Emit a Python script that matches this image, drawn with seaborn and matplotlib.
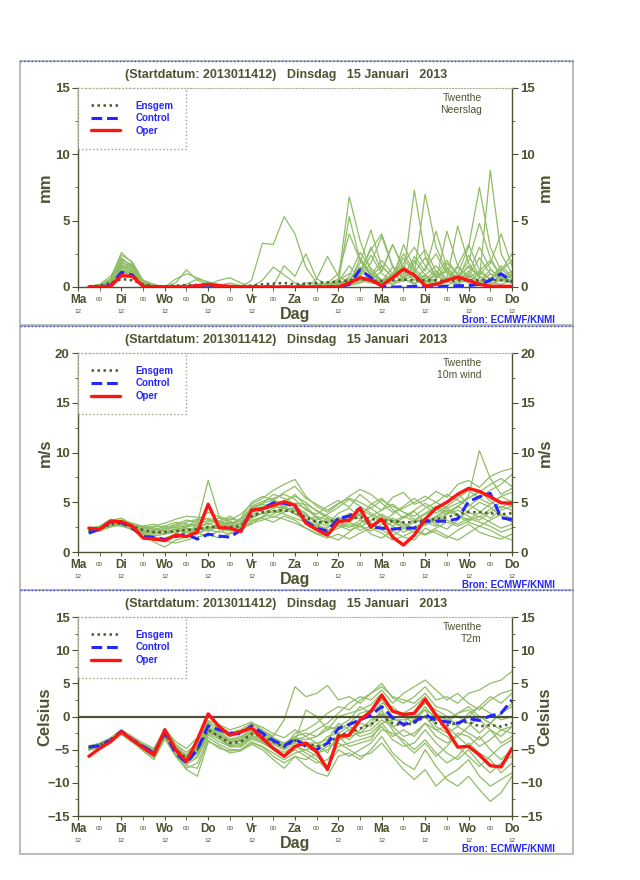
import numpy as np
import pandas as pd
import seaborn as sns
import matplotlib.pyplot as plt
from matplotlib.patches import Rectangle
from matplotlib.lines import Line2D
from matplotlib.ticker import MultipleLocator

# Tijdas: uren na 14 jan 12 UTC, stappen van 6 uur
hours = list(range(6, 241, 6))
day_hours = list(range(0, 241, 24))
mid_hours = list(range(12, 240, 24))
day_names = ['Ma', 'Di', 'Wo', 'Do', 'Vr', 'Za', 'Zo', 'Ma', 'Di', 'Wo', 'Do']
# onder Za staat 'Dag', daar geen 12
uur_labels = ['12', '12', '12', '12', '12', '', '12', '12', '12', '12', '12']

# ---------------- Neerslag (mm) ----------------
neerslag_oper = [0.0, 0.0, 0.05, 0.85, 0.8, 0.05, 0.0, 0.0, 0.0, 0.0,
                 0.1, 0.2, 0.1, 0.05, 0.0, 0.0, 0.0, 0.0, 0.0, 0.0,
                 0.0, 0.0, 0.0, 0.0, 0.3, 0.7, 0.5, 0.1, 0.7, 1.35,
                 0.9, 0.1, 0.2, 0.5, 0.75, 0.5, 0.2, 0.05, 0.05, 0.05]
neerslag_control = [0.0, 0.0, 0.1, 1.1, 0.9, 0.05, 0.0, 0.0, 0.0, 0.0,
                    0.1, 0.15, 0.05, 0.0, 0.0, 0.0, 0.0, 0.0, 0.0, 0.0,
                    0.0, 0.0, 0.0, 0.0, 0.2, 1.3, 0.7, 0.05, 0.0, 0.0,
                    0.05, 0.1, 0.0, 0.05, 0.1, 0.1, 0.2, 0.5, 1.0, 0.4]
neerslag_ensgem = [0.05, 0.1, 0.3, 0.6, 0.5, 0.2, 0.05, 0.05, 0.1, 0.15,
                   0.15, 0.15, 0.1, 0.05, 0.05, 0.1, 0.2, 0.25, 0.3, 0.2,
                   0.25, 0.3, 0.35, 0.4, 0.5, 0.6, 0.5, 0.45, 0.5, 0.55,
                   0.5, 0.5, 0.5, 0.45, 0.5, 0.5, 0.5, 0.55, 0.5, 0.45]
neerslag_leden = [
    [0, 0.1, 0.6, 2.6, 1.8, 0.3, 0, 0, 0, 0, 0, 0, 0, 0, 0, 0, 0, 0, 0, 0,
     0, 0, 0.2, 0.6, 6.8, 3.5, 1.2, 0.4, 1.5, 0.6, 0.2, 0.8, 0.3, 0.1, 0.5, 1.2, 0.4, 0.2, 0.6, 0.3],
    [0, 0.2, 0.8, 2.2, 1.5, 0.4, 0.1, 0, 0, 0, 0, 0, 0, 0, 0, 0, 0, 0, 0, 0,
     0, 0, 0.1, 0.3, 5.3, 2.0, 0.9, 0.5, 0.2, 0.8, 7.3, 2.4, 0.6, 1.8, 0.9, 0.3, 0.1, 0.5, 1.4, 0.6],
    [0, 0, 0.3, 1.6, 1.2, 0.2, 0, 0, 0.6, 1.0, 0.7, 0.3, 0, 0, 0, 0, 0, 0, 0, 0,
     0, 0, 0, 0, 0.4, 1.8, 4.3, 1.5, 0.8, 2.2, 1.0, 7.0, 3.0, 1.2, 0.5, 2.4, 0.8, 0.3, 0.2, 0.5],
    [0, 0.1, 0.4, 1.9, 1.4, 0.3, 0.1, 0, 0, 0, 0, 0, 0, 0, 0, 0.5, 3.3, 3.2, 5.3, 4.0,
     1.5, 0.3, 0, 0, 0.2, 0.5, 0.3, 0.2, 0.4, 0.6, 0.3, 0.5, 0.2, 0.4, 0.2, 0.6, 0.3, 1.0, 0.5, 0.3],
    [0, 0, 0.2, 1.3, 1.0, 0.1, 0, 0, 0, 0.2, 0.6, 0.4, 0.2, 0, 0, 0, 0, 0.1, 1.6, 0.8,
     2.5, 0.6, 0.2, 0.5, 1.0, 0.8, 1.8, 3.8, 1.5, 0.6, 2.3, 1.2, 4.2, 1.5, 0.6, 1.0, 3.0, 1.4, 0.5, 0.8],
    [0, 0.1, 0.5, 1.8, 1.6, 0.5, 0.2, 0, 0, 0, 0, 0, 0, 0, 0, 0, 0, 0, 0, 0,
     0, 0.6, 2.3, 0.8, 0.3, 1.0, 3.0, 1.2, 3.2, 1.4, 0.5, 0.9, 1.6, 0.6, 4.6, 1.8, 0.6, 8.8, 2.5, 1.0],
    [0, 0, 0.3, 1.5, 1.2, 0.2, 0, 0, 0, 0, 0, 0.1, 0.1, 0, 0, 0, 0, 0, 0, 0,
     0, 0, 0, 0.2, 0.5, 1.5, 0.6, 0.3, 1.0, 2.5, 1.2, 0.4, 1.0, 2.0, 1.0, 3.0, 7.5, 3.0, 1.2, 2.5],
    [0, 0.1, 0.5, 2.0, 1.7, 0.4, 0.1, 0, 0, 0, 0, 0, 0, 0, 0, 0, 0, 0, 0, 0,
     0.3, 0.2, 0, 0, 0.8, 2.6, 1.4, 0.5, 0.9, 1.8, 3.0, 1.6, 0.7, 1.2, 0.6, 1.6, 0.9, 1.8, 4.0, 1.6],
    [0, 0, 0.2, 1.2, 0.8, 0.1, 0, 0, 0.3, 1.3, 0.5, 0.2, 0.1, 0.3, 0.1, 0, 0, 0, 0, 0,
     0, 0, 0.1, 0.4, 1.6, 0.6, 0.9, 2.0, 1.0, 0.4, 1.8, 2.8, 1.2, 0.5, 1.5, 0.8, 2.2, 1.0, 0.6, 1.0],
    [0, 0.1, 0.4, 1.7, 1.3, 0.3, 0, 0, 0, 0, 0.1, 0.2, 0.5, 0.7, 0.3, 0, 0, 0, 0, 0,
     0, 0, 0, 0.1, 0.4, 0.8, 0.5, 1.2, 3.2, 1.4, 0.8, 0.3, 0.6, 1.4, 0.7, 0.3, 1.1, 0.6, 1.6, 0.8],
    [0, 0, 0.3, 1.4, 1.1, 0.2, 0, 0, 0, 0, 0, 0, 0, 0, 0, 0, 0.5, 1.5, 0.9, 0.3,
     0, 0, 0, 0, 0.2, 2.2, 1.0, 0.4, 0.6, 1.0, 2.0, 0.9, 0.4, 4.2, 1.6, 0.7, 1.2, 2.0, 0.8, 0.4],
    [0, 0.1, 0.6, 2.4, 1.9, 0.5, 0.1, 0, 0, 0, 0, 0, 0, 0, 0, 0, 0, 0, 0, 0,
     0, 0, 0, 0, 0.1, 0.3, 0.6, 0.4, 0.2, 0.5, 0.9, 0.5, 0.2, 0.6, 0.3, 0.8, 0.4, 0.2, 0.5, 0.9],
    [0, 0, 0.2, 1.0, 0.9, 0.2, 0, 0, 0, 0, 0, 0, 0, 0, 0, 0, 0, 0, 0, 0,
     0, 0, 0.3, 1.0, 4.0, 2.0, 0.8, 1.6, 0.7, 1.2, 0.5, 1.4, 2.5, 1.0, 0.5, 0.9, 0.4, 1.3, 0.7, 0.3],
    [0, 0.1, 0.4, 1.6, 1.5, 0.4, 0.1, 0, 0, 0, 0, 0, 0, 0, 0, 0, 0, 0, 0, 0,
     0, 0, 0, 0, 0.3, 0.9, 2.4, 1.0, 0.5, 3.2, 1.4, 0.6, 1.2, 0.5, 1.6, 3.2, 1.3, 0.6, 1.2, 2.0],
    [0, 0, 0.3, 1.2, 1.0, 0.3, 0, 0, 0, 0, 0, 0, 0, 0, 0, 0, 0, 0, 0, 0,
     0, 0, 0, 0, 0.2, 0.4, 0.9, 0.5, 0.8, 1.6, 0.7, 0.3, 0.9, 0.4, 0.7, 1.5, 0.8, 0.4, 0.7, 0.5],
    [0, 0.1, 0.5, 2.1, 1.6, 0.3, 0, 0, 0, 0, 0, 0, 0, 0, 0, 0, 0, 0, 0, 0,
     0, 0, 0, 0.3, 0.6, 1.2, 2.8, 4.0, 1.6, 0.7, 1.1, 2.2, 0.9, 0.4, 0.8, 1.9, 4.8, 2.2, 0.8, 1.2],
]

# ---------------- 10m wind (m/s) ----------------
wind_oper = [2.4, 2.3, 3.1, 3.05, 2.6, 1.4, 1.3, 1.15, 1.7, 1.55,
             2.0, 4.8, 2.45, 2.4, 2.05, 4.2, 4.35, 4.7, 5.05, 4.7,
             2.9, 2.25, 1.7, 3.05, 3.2, 4.4, 2.5, 3.3, 1.5, 0.7,
             1.7, 3.3, 4.4, 5.0, 5.8, 6.4, 6.1, 5.55, 4.95, 4.9]
wind_control = [1.9, 2.3, 3.05, 2.95, 2.4, 1.55, 1.5, 1.25, 1.55, 1.8,
                1.3, 1.8, 1.6, 1.5, 2.2, 4.2, 4.35, 4.95, 4.9, 4.6,
                3.05, 2.4, 2.1, 3.4, 3.6, 4.4, 2.5, 2.4, 2.3, 2.4,
                2.4, 3.1, 3.1, 3.1, 3.35, 5.05, 5.56, 5.9, 3.45, 3.25]
wind_ensgem = [2.2, 2.3, 2.8, 2.9, 2.6, 2.2, 2.0, 2.0, 2.1, 2.2,
               2.3, 2.5, 2.5, 2.5, 2.6, 3.6, 4.0, 4.1, 4.2, 4.0,
               3.5, 3.0, 3.0, 3.3, 3.3, 3.5, 3.3, 3.2, 3.1, 3.0,
               3.0, 3.2, 3.3, 3.5, 3.8, 4.0, 4.0, 3.9, 3.8, 3.9]
wind_leden = [
    [2.0, 2.2, 2.6, 3.2, 2.9, 2.5, 2.3, 2.1, 2.8, 3.2, 3.0, 3.4, 3.1, 3.6, 3.0, 4.6, 5.1, 5.4, 5.8, 5.3,
     4.2, 3.8, 4.6, 5.2, 4.5, 5.8, 4.9, 4.2, 5.5, 6.0, 4.8, 5.2, 6.1, 5.5, 6.8, 7.2, 6.5, 7.6, 8.1, 8.4],
    [2.3, 2.5, 3.0, 2.7, 2.2, 1.8, 1.4, 1.1, 0.9, 1.2, 1.5, 1.8, 1.4, 1.9, 2.2, 3.1, 3.4, 3.0, 3.6, 3.2,
     2.4, 1.9, 1.6, 1.2, 2.0, 2.8, 1.8, 1.4, 2.1, 1.5, 1.2, 2.4, 1.9, 1.4, 2.2, 2.8, 2.0, 1.6, 1.3, 1.8],
    [2.1, 2.4, 3.2, 3.4, 2.8, 2.4, 2.6, 2.9, 3.3, 3.6, 3.5, 3.3, 2.8, 2.6, 3.4, 5.0, 5.6, 5.2, 4.9, 5.8,
     4.6, 3.5, 2.8, 3.9, 4.4, 3.6, 4.8, 5.4, 4.3, 3.4, 4.1, 3.0, 2.6, 3.8, 4.6, 5.4, 6.2, 5.1, 4.4, 5.2],
    [2.4, 2.1, 2.7, 2.6, 2.3, 2.0, 1.6, 1.8, 2.2, 1.9, 2.4, 2.1, 2.6, 2.9, 2.4, 2.8, 3.6, 4.2, 3.8, 3.4,
     3.0, 2.6, 3.4, 2.8, 2.5, 3.2, 2.6, 3.6, 3.0, 2.4, 2.0, 2.8, 3.6, 4.4, 3.8, 3.2, 4.0, 4.8, 5.6, 5.0],
    [1.9, 2.3, 2.9, 3.0, 2.7, 2.6, 2.8, 2.4, 1.9, 1.6, 2.4, 3.0, 3.4, 3.1, 2.8, 4.0, 4.6, 4.9, 4.6, 4.1,
     3.6, 3.2, 3.8, 4.5, 5.3, 4.6, 3.9, 3.3, 2.6, 3.5, 4.2, 4.9, 4.3, 5.0, 5.9, 4.8, 4.1, 3.4, 4.2, 4.6],
    [2.2, 2.6, 3.3, 3.1, 2.4, 1.6, 1.2, 1.4, 1.8, 2.6, 3.2, 4.0, 3.5, 2.9, 3.1, 3.6, 3.9, 3.5, 4.0, 4.6,
     3.9, 2.8, 2.2, 2.6, 3.0, 3.8, 3.0, 2.2, 1.6, 2.4, 3.0, 3.4, 2.8, 2.3, 3.2, 4.2, 5.0, 4.5, 3.6, 3.0],
    [2.0, 2.2, 2.5, 2.8, 2.5, 2.3, 2.5, 2.6, 2.4, 2.8, 2.6, 2.2, 2.0, 2.4, 2.6, 3.4, 3.9, 4.4, 4.6, 4.9,
     4.8, 4.2, 3.6, 3.1, 2.5, 2.9, 3.6, 4.2, 4.8, 4.0, 3.3, 2.7, 3.2, 3.9, 4.5, 5.6, 10.2, 7.4, 5.8, 6.4],
    [2.3, 2.4, 2.8, 2.9, 2.7, 2.0, 1.5, 1.3, 1.6, 2.0, 1.8, 2.3, 2.7, 2.2, 2.0, 3.2, 3.5, 3.8, 4.4, 3.9,
     3.2, 3.6, 3.2, 2.7, 2.2, 2.6, 2.1, 2.8, 3.4, 2.9, 2.3, 1.8, 2.4, 3.0, 2.6, 3.1, 3.6, 3.0, 2.4, 2.8],
    [2.1, 2.3, 2.9, 3.0, 2.8, 2.6, 2.4, 2.2, 2.5, 2.6, 2.9, 7.2, 3.6, 3.2, 3.8, 4.8, 5.4, 6.2, 6.8, 7.3,
     5.6, 4.6, 4.0, 4.8, 5.6, 6.3, 5.8, 4.9, 4.0, 4.4, 5.0, 5.6, 5.0, 4.4, 4.9, 5.4, 6.0, 6.8, 7.4, 6.6],
    [2.2, 2.1, 2.6, 2.7, 2.4, 2.2, 2.0, 1.8, 2.0, 2.4, 2.2, 2.6, 2.3, 2.5, 2.9, 3.8, 4.2, 4.6, 4.4, 3.8,
     3.2, 2.4, 1.9, 2.4, 2.8, 2.2, 2.6, 3.2, 2.6, 2.0, 2.5, 3.0, 3.6, 3.2, 2.8, 3.4, 3.0, 2.6, 2.0, 2.4],
    [2.4, 2.6, 3.1, 3.2, 2.9, 2.5, 2.1, 2.4, 2.8, 2.3, 1.9, 2.4, 2.9, 3.4, 3.0, 4.4, 4.8, 4.4, 5.2, 5.6,
     5.0, 4.1, 3.4, 2.9, 3.6, 4.3, 3.7, 3.0, 3.8, 4.6, 5.4, 4.6, 3.9, 4.6, 5.4, 6.2, 5.4, 4.8, 5.6, 6.0],
    [2.0, 2.3, 2.7, 3.0, 2.6, 1.9, 1.0, 0.5, 1.2, 1.5, 1.9, 1.6, 2.1, 1.8, 2.4, 2.9, 3.2, 3.6, 3.3, 2.9,
     2.4, 1.8, 1.4, 1.8, 1.3, 1.9, 2.4, 1.9, 1.2, 1.6, 2.1, 1.7, 2.2, 1.6, 1.2, 1.9, 2.6, 2.2, 1.6, 1.2],
    [2.3, 2.5, 2.9, 2.8, 2.6, 2.4, 2.2, 2.6, 3.0, 2.8, 2.5, 2.8, 3.1, 2.7, 2.5, 3.4, 4.4, 4.8, 4.1, 4.4,
     3.8, 3.0, 2.6, 3.2, 3.9, 3.3, 2.8, 2.4, 3.0, 3.6, 3.1, 3.8, 4.4, 3.8, 4.2, 3.6, 3.2, 4.0, 4.6, 4.2],
    [2.1, 2.4, 2.8, 2.9, 2.7, 2.2, 1.9, 2.2, 2.6, 3.0, 3.3, 2.9, 2.4, 2.1, 2.5, 4.2, 4.9, 5.8, 5.4, 4.8,
     4.4, 3.4, 2.9, 3.5, 3.1, 3.9, 4.4, 3.6, 3.0, 2.6, 3.2, 3.9, 4.6, 4.0, 4.6, 4.0, 3.5, 4.3, 5.0, 4.6],
    [2.2, 2.3, 2.7, 2.8, 2.5, 2.1, 1.8, 1.9, 2.3, 2.1, 2.6, 2.3, 2.8, 3.0, 2.7, 3.6, 3.9, 4.0, 4.5, 4.2,
     3.4, 2.6, 2.4, 3.4, 3.0, 2.5, 3.2, 3.8, 3.2, 2.8, 2.4, 2.9, 3.4, 4.2, 3.6, 3.0, 2.6, 3.2, 3.8, 3.4],
    [2.4, 2.5, 3.0, 3.1, 2.8, 2.4, 2.2, 2.0, 2.3, 2.5, 2.8, 3.2, 3.0, 2.8, 3.3, 4.5, 4.9, 5.2, 6.0, 6.6,
     5.4, 4.8, 4.2, 4.9, 5.4, 5.0, 4.4, 5.2, 4.6, 4.0, 3.6, 4.4, 5.0, 5.8, 5.2, 4.6, 5.4, 6.2, 6.8, 7.8],
]

# ---------------- T2m (Celsius) ----------------
temp_oper = [-6.0, -4.8, -3.8, -2.3, -3.5, -4.7, -5.8, -2.0, -5.0, -6.8,
             -3.5, 0.4, -1.5, -2.8, -2.3, -1.7, -3.3, -4.8, -6.0, -4.5,
             -4.0, -5.3, -8.0, -3.0, -2.8, -0.5, 0.8, 3.2, 0.8, 0.3,
             0.5, 2.6, 0.2, -2.0, -4.6, -4.5, -5.8, -7.4, -7.6, -4.8]
temp_control = [-4.6, -4.4, -3.6, -2.2, -3.5, -4.5, -5.5, -2.5, -5.5, -7.0,
                -5.0, -1.4, -2.0, -2.5, -2.6, -1.4, -2.5, -3.6, -4.4, -3.4,
                -4.5, -5.0, -4.0, -1.8, -1.2, -0.5, 0.2, 1.5, -0.2, -1.2,
                -0.8, 0.3, -0.6, -0.8, -1.0, -0.3, -0.6, 0.1, 0.5, 2.5]
temp_ensgem = [-4.7, -4.3, -3.5, -2.3, -3.5, -4.5, -5.5, -2.6, -5.0, -6.3,
               -5.0, -2.0, -3.0, -4.0, -3.8, -2.6, -3.0, -3.8, -4.6, -3.6,
               -4.0, -4.5, -4.3, -2.8, -2.5, -1.8, -1.2, 0.0, -1.0, -1.3,
               -1.0, 0.0, -1.0, -1.3, -1.0, -0.8, -1.5, -1.3, -1.5, -1.0]
temp_leden = [
    [-4.5, -4.0, -3.2, -2.0, -3.0, -4.0, -4.8, -1.8, -3.8, -4.8, -3.2, -0.6, -1.2, -2.0, -1.5, -0.8, -2.0, -3.0, -0.5, 4.5,
     3.0, 3.5, 4.7, 2.5, 3.0, 2.0, 3.5, 5.0, 2.8, 2.0, 3.0, 4.5, 2.5, 3.0, 2.0, 3.5, 4.0, 5.0, 5.5, 6.8],
    [-5.0, -4.6, -3.8, -2.6, -3.8, -5.2, -6.5, -3.4, -6.0, -8.0, -9.0, -3.8, -4.5, -5.5, -5.2, -4.2, -5.0, -6.5, -7.8, -6.0,
     -7.5, -8.5, -9.0, -6.0, -5.5, -6.5, -5.0, -3.0, -5.5, -7.0, -8.0, -5.0, -7.5, -9.5, -10.5, -9.0, -11.0, -12.8, -11.5, -9.0],
    [-4.8, -4.4, -3.6, -2.4, -3.4, -4.4, -5.2, -2.2, -4.6, -6.0, -4.4, -1.2, -2.2, -3.0, -2.6, -1.6, -2.4, -3.2, -4.0, -3.0,
     -2.5, -3.0, -2.0, 0.0, 0.5, 1.0, 1.8, 3.5, 1.0, 0.5, 1.5, 3.0, 0.5, -0.5, 0.5, 1.5, 0.0, -1.0, 0.5, 1.5],
    [-4.6, -4.2, -3.4, -2.2, -3.6, -4.8, -6.0, -3.0, -5.5, -7.2, -6.2, -2.8, -3.8, -4.5, -4.6, -3.4, -4.0, -5.0, -6.0, -5.0,
     -6.0, -7.0, -6.5, -4.5, -4.0, -3.5, -3.0, -1.5, -3.5, -4.5, -4.0, -2.0, -4.0, -5.5, -6.5, -5.0, -7.0, -8.5, -7.0, -6.0],
    [-4.9, -4.5, -3.6, -2.3, -3.3, -4.3, -5.4, -2.4, -5.2, -6.6, -5.5, -1.8, -2.6, -3.6, -3.2, -1.9, -2.6, -3.4, -4.2, -3.2,
     -3.5, -3.0, -1.5, -2.0, -1.0, 0.5, 1.0, 2.5, 0.0, -1.5, -0.5, 1.0, -1.5, -2.5, -1.5, 0.5, 1.5, 0.5, -0.5, 0.0],
    [-4.4, -4.1, -3.3, -2.1, -3.2, -4.2, -5.0, -2.0, -4.2, -5.4, -4.0, -0.8, -1.8, -2.8, -2.4, -1.2, -2.2, -3.4, -4.6, -2.5,
     -2.0, -1.0, 0.5, 1.5, 1.0, 2.5, 3.5, 4.5, 3.0, 2.5, 2.0, 3.5, 1.5, 1.0, 0.0, -1.0, -2.5, -1.0, 0.5, 2.0],
    [-5.1, -4.7, -3.9, -2.7, -3.9, -5.0, -6.2, -3.2, -5.8, -7.8, -7.0, -3.2, -4.2, -5.0, -5.0, -3.8, -4.5, -5.5, -6.5, -5.5,
     -5.0, -6.0, -7.5, -5.0, -6.0, -5.0, -4.0, -2.0, -2.5, -3.5, -5.0, -3.5, -5.5, -7.0, -6.0, -4.0, -5.5, -6.5, -8.5, -7.0],
    [-4.7, -4.3, -3.5, -2.3, -3.5, -4.6, -5.6, -2.8, -5.0, -6.2, -4.8, -2.2, -3.2, -4.2, -4.0, -2.8, -3.4, -4.2, -5.0, -4.0,
     -4.5, -5.5, -5.0, -3.5, -3.0, -2.5, -2.0, -0.5, -1.5, -1.0, 0.5, 2.0, 1.0, 0.0, -1.5, -2.5, -3.5, -2.0, -3.0, -1.5],
    [-4.5, -4.2, -3.4, -2.2, -3.4, -4.4, -5.3, -2.3, -4.8, -6.4, -5.6, -2.4, -3.0, -3.8, -3.4, -2.2, -3.0, -3.6, -4.4, -3.4,
     -4.0, -4.0, -3.5, -1.0, -2.0, -3.0, -2.5, -1.0, -0.5, 0.5, -0.5, 1.5, -0.5, -1.0, 0.5, 1.0, -0.5, -2.0, -4.0, -3.0],
    [-4.8, -4.5, -3.7, -2.5, -3.7, -4.7, -5.8, -2.7, -5.4, -6.8, -6.0, -2.6, -3.4, -4.4, -4.2, -3.0, -3.6, -4.6, -5.4, -4.4,
     -5.5, -6.5, -8.0, -3.0, -4.5, -4.0, -3.5, -1.0, -3.0, -2.0, -3.0, -1.0, -2.0, -3.0, -4.5, -6.0, -7.5, -6.0, -4.5, -3.5],
    [-4.6, -4.3, -3.4, -2.1, -3.3, -4.3, -5.1, -1.8, -4.4, -5.8, -3.8, -1.0, -1.6, -2.4, -2.0, -1.0, -1.6, -2.6, -3.2, -2.0,
     -3.0, -2.0, -1.0, 0.5, 2.0, 3.0, 2.5, 4.0, 2.0, 3.5, 4.5, 5.5, 4.0, 2.5, 3.5, 2.0, 1.0, 2.5, 3.5, 4.0],
    [-4.9, -4.6, -3.7, -2.5, -3.6, -4.8, -5.9, -3.0, -5.6, -7.4, -7.8, -3.6, -4.8, -5.2, -5.0, -4.0, -4.6, -6.0, -7.0, -6.0,
     -6.5, -5.5, -4.5, -4.0, -5.0, -6.0, -5.5, -4.0, -6.0, -8.0, -9.5, -8.0, -10.5, -9.0, -8.0, -6.5, -9.0, -10.5, -9.5, -8.5],
    [-4.7, -4.4, -3.6, -2.4, -3.6, -4.5, -5.6, -2.5, -5.1, -6.5, -5.2, -2.0, -2.8, -3.8, -3.6, -2.4, -3.2, -4.0, -4.8, -3.6,
     -3.0, -4.0, -5.5, -2.5, -1.5, -2.5, -1.0, 1.0, -1.5, -3.0, -2.5, -1.0, -3.0, -4.0, -3.0, -1.5, 0.0, -1.0, -2.0, -2.5],
    [-4.5, -4.1, -3.3, -2.2, -3.4, -4.3, -5.2, -2.2, -4.7, -6.0, -4.6, -1.6, -2.4, -3.4, -3.0, -2.0, -2.8, -3.8, -4.6, -3.8,
     1.0, 0.0, -2.0, -1.5, -0.5, 1.5, 0.5, 2.0, 1.5, 0.0, -1.0, 0.0, -2.0, -1.5, -3.0, -4.5, -3.0, -5.0, -6.5, -5.0],
    [-4.8, -4.4, -3.6, -2.4, -3.6, -4.6, -5.6, -2.6, -5.2, -6.6, -5.0, -2.0, -3.2, -4.6, -4.4, -3.2, -3.8, -4.8, -5.8, -4.6,
     -5.0, -4.5, -3.0, -2.5, -3.5, -2.0, -0.5, 0.5, -2.0, -4.0, -5.5, -4.0, -6.0, -4.5, -2.5, -3.0, -4.5, -3.5, -2.0, -1.5],
    [-4.6, -4.3, -3.5, -2.3, -3.5, -4.5, -5.4, -2.4, -4.9, -6.2, -4.9, -1.9, -2.9, -3.9, -3.7, -2.5, -3.1, -3.9, -4.5, -3.5,
     -4.0, -4.5, -4.0, -3.0, -2.0, -1.0, -1.5, 0.5, -0.5, -0.5, 0.0, 1.0, 0.0, -0.5, -1.0, 0.0, 1.5, 3.0, 2.0, 3.5],
]

titel = '(Startdatum: 2013011412)   Dinsdag   15 Januari   2013'
panelen = [
    dict(leden=neerslag_leden, ensgem=neerslag_ensgem, control=neerslag_control, oper=neerslag_oper,
         ylim=(0, 15), eenheid='mm', naam='Twenthe\nNeerslag', nul=False),
    dict(leden=wind_leden, ensgem=wind_ensgem, control=wind_control, oper=wind_oper,
         ylim=(0, 20), eenheid='m/s', naam='Twenthe\n10m wind', nul=False),
    dict(leden=temp_leden, ensgem=temp_ensgem, control=temp_control, oper=temp_oper,
         ylim=(-15, 15), eenheid='Celsius', naam='Twenthe\nT2m', nul=True),
]

OLIJF = '#4d5330'
GROEN = '#90bd66'
DONKER = '#4f5a2a'
BLAUW = '#2525ff'
ROOD = '#ff1414'

sns.set_style('white')
plt.rcParams['font.family'] = ['Liberation Sans', 'DejaVu Sans']

fig = plt.figure(figsize=(6.4, 8.8), dpi=100)
bottoms = [0.6739, 0.3727, 0.0727]

for p, b in zip(panelen, bottoms):
    ax = fig.add_axes([0.1219, b, 0.678, 0.2261])

    # ensemble leden in lange vorm
    df = pd.DataFrame(p['leden'], columns=hours)
    df['lid'] = range(len(df))
    lang = df.melt(id_vars='lid', var_name='uur', value_name='waarde')
    sns.lineplot(data=lang, x='uur', y='waarde', units='lid', estimator=None,
                 color=GROEN, lw=0.9, ax=ax, legend=False)

    if p['nul']:
        ax.axhline(0, color=OLIJF, lw=1.6, zorder=2.5)

    ax.plot(hours, p['ensgem'], color=DONKER, ls=(0, (1, 1.4)), lw=1.8, label='Ensgem', zorder=3)
    ax.plot(hours, p['control'], color=BLAUW, ls=(0, (3.5, 1.6)), lw=2.2, label='Control', zorder=4)
    ax.plot(hours, p['oper'], color=ROOD, lw=2.4, label='Oper', zorder=5)

    ax.set_xlim(0, 240)
    ax.set_ylim(*p['ylim'])
    ax.set_xlabel('')
    ax.set_ylabel('')

    # x-as: dagnamen, 00 en 12
    ax.set_xticks(day_hours, labels=day_names)
    ax.set_xticks(mid_hours, labels=['00'] * len(mid_hours), minor=True)
    ax.tick_params(axis='x', which='major', bottom=True, length=3, pad=2,
                   labelsize=8.5, color=OLIJF, labelcolor=OLIJF)
    ax.tick_params(axis='x', which='minor', bottom=True, length=3, pad=4.5,
                   labelsize=4.5, color=OLIJF, labelcolor=OLIJF)
    for lab in ax.get_xticklabels():
        lab.set_fontweight('bold')

    sec = ax.secondary_xaxis('bottom')
    sec.set_xticks(day_hours, labels=uur_labels)
    sec.tick_params(length=0, pad=16, labelsize=4.5, labelcolor=OLIJF)
    sec.spines['bottom'].set_visible(False)

    # y-as aan beide kanten
    ax.yaxis.set_major_locator(MultipleLocator(5))
    ax.yaxis.set_minor_locator(MultipleLocator(2.5))
    ax.tick_params(axis='y', which='both', left=True, right=True, labelleft=True,
                   labelright=True, direction='out', color=OLIJF, labelcolor=OLIJF)
    ax.tick_params(axis='y', which='major', length=4, labelsize=9.5, pad=2)
    ax.tick_params(axis='y', which='minor', length=2)
    for lab in ax.get_yticklabels():
        lab.set_fontweight('bold')

    for s in ['left', 'right', 'bottom']:
        ax.spines[s].set_color(OLIJF)
        ax.spines[s].set_linewidth(1.0)
    ax.spines['top'].set_color('#a9b4a0')
    ax.spines['top'].set_linestyle(':')

    # teksten
    ax.text(0.48, 1.065, titel, transform=ax.transAxes, ha='center', va='center',
            fontsize=9, fontweight='bold', color=OLIJF)
    ax.text(0.931, 0.975, p['naam'], transform=ax.transAxes, ha='right', va='top',
            fontsize=7.5, color=OLIJF, linespacing=1.25)
    ax.text(0.5, -0.137, 'Dag', transform=ax.transAxes, ha='center', va='center',
            fontsize=11.5, fontweight='bold', color=OLIJF)
    ax.text(-0.076, 0.5, p['eenheid'], transform=ax.transAxes, ha='center', va='center',
            rotation=90, fontsize=12, fontweight='bold', color=OLIJF)
    ax.text(1.076, 0.5, p['eenheid'], transform=ax.transAxes, ha='center', va='center',
            rotation=90, fontsize=12, fontweight='bold', color=OLIJF)
    ax.text(1.099, -0.166, 'Bron: ECMWF/KNMI', transform=ax.transAxes, ha='right', va='center',
            fontsize=7, fontweight='bold', color=BLAUW)

    leg = ax.legend(loc='upper left', bbox_to_anchor=(0, 1), borderaxespad=0,
                    frameon=True, fancybox=False, edgecolor='#9aa58c', framealpha=1,
                    handlelength=3.0, handletextpad=1.6, labelspacing=0.27, borderpad=1.3,
                    prop={'size': 7, 'weight': 'bold'}, labelcolor=BLAUW)
    leg.get_frame().set_linestyle(':')
    leg.set_zorder(6)

    # paneelkader
    pos = ax.get_position()
    top = pos.y1 + 27 / 880
    bot = pos.y0 - 38 / 880
    fig.add_artist(Rectangle((0.03125, bot), 0.864, top - bot, transform=fig.transFigure,
                             fill=False, ec='#b0baae', lw=1.3))
    fig.add_artist(Line2D([0.03125, 0.8953], [top, top], transform=fig.transFigure,
                          color='#3b3bff', ls=':', lw=1.0))

fig.savefig('out.png', dpi=100)
